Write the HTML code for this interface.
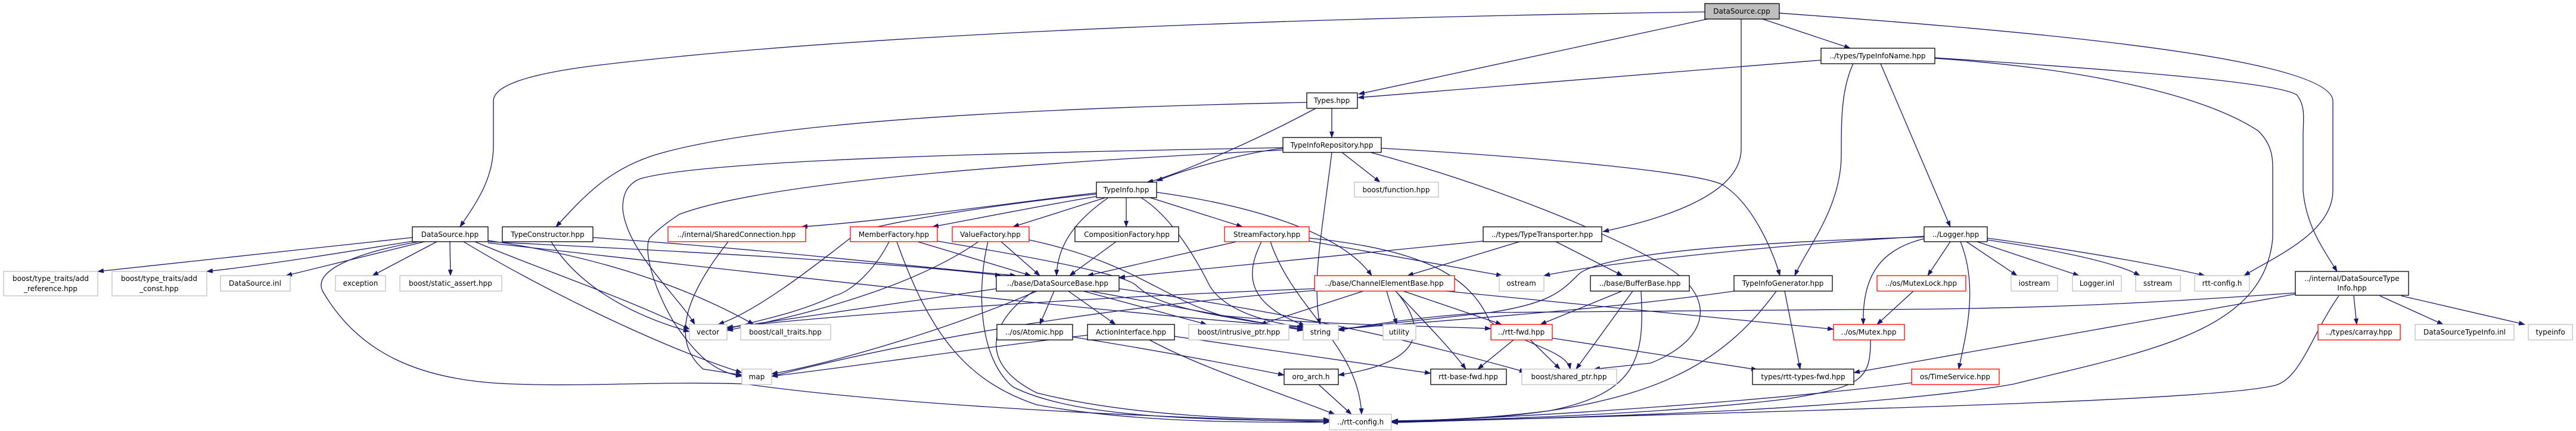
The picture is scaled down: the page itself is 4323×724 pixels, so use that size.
<!DOCTYPE html>
<html><head><meta charset="utf-8"><style>
html,body{margin:0;padding:0;background:#fff;}
svg{display:block;}
text{font-family:"DejaVu Sans","Liberation Sans",sans-serif;font-size:12px;fill:#000;}
.e{fill:none;stroke:#191970;stroke-width:1.3;marker-end:url(#a);}
.k{fill:#fff;stroke:#000;stroke-width:1.3;}
.r{fill:#fff;stroke:#ff0000;stroke-width:1.3;}
.g{fill:#fff;stroke:#bfbfbf;stroke-width:1.3;}
</style></head><body>
<svg width="4323" height="724" viewBox="0 0 4323 724" xmlns="http://www.w3.org/2000/svg">
<defs><marker id="a" markerWidth="11" markerHeight="8" refX="10" refY="4" orient="auto" markerUnits="userSpaceOnUse"><path d="M0,0 L11,4 L0,8z" fill="#191970"/></marker></defs>
<g>
<path class="e" d="M2861,20 C2300,28 1500,50 1000,110 C880,125 828,145 828,170 L828,245 C828,300 800,340 772,381"/>
<path class="e" d="M2870,31 L2280,158"/>
<path class="e" d="M2922,31 L2922,250 C2922,330 2780,370 2690,389"/>
<path class="e" d="M2955,31 L3105,81"/>
<path class="e" d="M2986,22 C3300,45 3915,90 3915,170 L3915,320 C3915,390 3820,430 3766,463"/>
<path class="e" d="M3056,101 L2279,164"/>
<path class="e" d="M3110,107 C3090,150 3090,200 3090,260 C3090,350 3030,420 3012,463"/>
<path class="e" d="M3156,107 L3273,381"/>
<path class="e" d="M3247,97 C3600,120 3830,140 3855,160 C3870,180 3865,200 3865,230 L3865,320 C3870,380 3900,420 3922,456"/>
<path class="e" d="M3247,98 C3500,115 3700,160 3790,220 C3810,240 3814,260 3814,280 L3814,400 C3800,560 3600,590 3380,645 C3300,660 3100,680 2900,690 C2700,700 2500,705 2336,709"/>
<path class="e" d="M2235,182 L2235,231"/>
<path class="e" d="M2193,172 C1800,180 1300,200 1100,260 C1020,285 980,330 933,381"/>
<path class="e" d="M2208,182 C2100,240 1960,300 1925,306"/>
<path class="e" d="M2153,249 C2100,255 2000,280 1941,304"/>
<path class="e" d="M2153,248 C1800,255 1200,265 1075,300 C1050,310 1045,330 1045,350 C1050,420 1140,500 1166,545"/>
<path class="e" d="M2153,252 C1800,270 1300,300 1140,360 C1110,380 1100,390 1090,400 C1080,420 1095,480 1130,540 C1170,600 1200,625 1245,632"/>
<path class="e" d="M2252,256 L2316,306"/>
<path class="e" d="M2235,256 C2225,340 2210,430 2210,480 C2210,510 2212,530 2215,545"/>
<path class="e" d="M2300,256 C2500,310 2700,390 2800,450 C2880,500 2870,570 2770,610 L2675,620"/>
<path class="e" d="M2318,249 C2600,265 2850,290 2890,310 C2940,340 2975,420 2987,463"/>
<path class="e" d="M1840,324 C1700,340 1500,370 1345,381"/>
<path class="e" d="M1840,330 C1750,345 1650,365 1565,381"/>
<path class="e" d="M1855,332 L1700,381"/>
<path class="e" d="M1890,332 L1890,381"/>
<path class="e" d="M1930,332 L2085,381"/>
<path class="e" d="M1860,332 C1820,360 1775,400 1773,463"/>
<path class="e" d="M1840,326 C1700,340 1500,370 1440,390 C1400,420 1280,520 1205,545"/>
<path class="e" d="M1915,332 C1960,360 2000,420 2030,480 C2060,530 2150,545 2190,550"/>
<path class="e" d="M1941,323 C2100,345 2250,390 2302,463"/>
<path class="e" d="M1222,406 C1180,460 1110,560 1180,620 L1245,630"/>
<path class="e" d="M1540,406 L1730,463"/>
<path class="e" d="M1492,406 C1470,450 1430,490 1400,497 C1330,530 1260,540 1220,553"/>
<path class="e" d="M1573,405 C1750,435 1880,460 1905,478 C1930,500 1950,520 2187,553"/>
<path class="e" d="M1505,406 C1560,560 1620,640 1740,680 C1900,710 2100,710 2231,709"/>
<path class="e" d="M1680,406 L1745,463"/>
<path class="e" d="M1642,406 C1550,470 1400,520 1220,555"/>
<path class="e" d="M1658,406 C1640,480 1640,600 1700,650 C1800,700 2000,706 2231,707"/>
<path class="e" d="M1727,403 C1900,440 1950,500 2050,530 C2200,545 2400,548 2502,552"/>
<path class="e" d="M1873,406 L1795,463"/>
<path class="e" d="M2075,406 L1825,463"/>
<path class="e" d="M2117,406 C2090,460 2090,510 2190,547"/>
<path class="e" d="M2132,406 C2170,520 2280,580 2285,696"/>
<path class="e" d="M2197,405 L2521,463"/>
<path class="e" d="M2197,400 C2400,420 2470,470 2500,540 C2560,580 2630,590 2635,620"/>
<path class="e" d="M1672,485 C1500,510 1300,540 1220,551"/>
<path class="e" d="M1740,489 C1600,550 1400,610 1295,628"/>
<path class="e" d="M1769,489 L1745,545"/>
<path class="e" d="M1793,489 L1872,545"/>
<path class="e" d="M1818,489 L2025,545"/>
<path class="e" d="M1830,489 L2187,555"/>
<path class="e" d="M1735,489 C1660,540 1640,610 1740,660 C1900,700 2100,705 2231,705"/>
<path class="e" d="M1878,485 C2200,530 2400,580 2560,625"/>
<path class="e" d="M1825,563 C1600,590 1400,620 1295,632"/>
<path class="e" d="M1971,565 L2401,627"/>
<path class="e" d="M1929,571 C2020,620 2150,660 2240,696"/>
<path class="e" d="M1800,566 C1950,590 2080,615 2155,630"/>
<path class="e" d="M2213,646 L2268,696"/>
<path class="e" d="M2540,571 L2480,620"/>
<path class="e" d="M2568,571 L2618,620"/>
<path class="e" d="M2605,568 L2949,621"/>
<path class="e" d="M2206,485 C1800,500 1400,530 1220,550"/>
<path class="e" d="M2206,488 C1800,520 1500,580 1295,632"/>
<path class="e" d="M2288,489 L2115,545"/>
<path class="e" d="M2327,489 L2344,545"/>
<path class="e" d="M2355,489 L2520,545"/>
<path class="e" d="M2342,489 C2380,530 2430,580 2460,620"/>
<path class="e" d="M2345,492 C2400,560 2380,610 2246,630"/>
<path class="e" d="M2427,489 L3077,553"/>
<path class="e" d="M2550,406 L2362,463"/>
<path class="e" d="M2611,406 L2723,463"/>
<path class="e" d="M2489,405 L1878,466"/>
<path class="e" d="M2722,489 L2585,545"/>
<path class="e" d="M2740,489 L2645,620"/>
<path class="e" d="M2754,489 C2760,600 2750,660 2600,690 C2500,705 2400,706 2336,707"/>
<path class="e" d="M2910,489 C2700,520 2400,540 2246,553"/>
<path class="e" d="M2995,489 L3021,620"/>
<path class="e" d="M2981,489 C2900,600 2800,660 2600,690 C2500,703 2400,706 2336,708"/>
<path class="e" d="M3229,397 C3000,410 2700,440 2591,463"/>
<path class="e" d="M3229,398 C3000,405 2700,420 2650,460 C2620,490 2600,510 2500,525 L2246,553"/>
<path class="e" d="M3229,401 C3150,420 3125,470 3127,545"/>
<path class="e" d="M3273,406 L3235,463"/>
<path class="e" d="M3290,406 C3320,480 3300,560 3287,620"/>
<path class="e" d="M3300,406 L3385,463"/>
<path class="e" d="M3318,406 L3489,463"/>
<path class="e" d="M3335,403 C3450,420 3550,440 3591,463"/>
<path class="e" d="M3335,400 C3480,420 3600,440 3700,463"/>
<path class="e" d="M3211,489 L3150,545"/>
<path class="e" d="M3139,571 C3140,640 3120,650 3000,670 C2800,695 2500,705 2336,708"/>
<path class="e" d="M3208,643 C3000,670 2600,700 2336,708"/>
<path class="e" d="M3950,497 L3955,545"/>
<path class="e" d="M3994,497 L4100,545"/>
<path class="e" d="M4030,497 L4237,545"/>
<path class="e" d="M3852,492 C3600,510 3400,520 3100,520 L2500,525 C2400,530 2300,545 2246,555"/>
<path class="e" d="M3852,494 C3600,540 3300,590 3111,626"/>
<path class="e" d="M3925,497 C3880,560 3860,640 3815,648 C3700,675 3000,690 2336,710"/>
<path class="e" d="M692,399 C500,420 300,440 164,456"/>
<path class="e" d="M700,404 C600,420 450,445 347,456"/>
<path class="e" d="M712,406 L480,463"/>
<path class="e" d="M733,406 L625,463"/>
<path class="e" d="M755,406 L756,463"/>
<path class="e" d="M703,406 C620,420 520,450 542,490 C600,590 700,640 860,645 C1000,650 1100,640 1250,645 C1500,680 1900,700 2231,709"/>
<path class="e" d="M778,406 C900,480 1100,580 1245,626"/>
<path class="e" d="M797,406 C900,450 1050,500 1157,553"/>
<path class="e" d="M819,404 C1000,430 1150,480 1265,545"/>
<path class="e" d="M819,406 C1100,420 1500,440 1680,463"/>
<path class="e" d="M995,399 C1300,420 1500,445 1705,463"/>
<path class="e" d="M819,408 C1200,450 1800,520 2187,550"/>
<path class="e" d="M925,406 C970,480 1060,530 1157,557"/>
</g>
<g text-anchor="middle" dominant-baseline="central">
<rect x="2861" y="6" width="125" height="26" fill="#bfbfbf" stroke="#000" stroke-width="1.3"/><text x="2923" y="19">DataSource.cpp</text>
<rect class="k" x="3056" y="81" width="191" height="26"/><text x="3151" y="94">../types/TypeInfoName.hpp</text>
<rect class="k" x="2193" y="156" width="85" height="26"/><text x="2235" y="169">Types.hpp</text>
<rect class="k" x="2153" y="231" width="165" height="25"/><text x="2235" y="244">TypeInfoRepository.hpp</text>
<rect class="k" x="1840" y="306" width="101" height="26"/><text x="1890" y="319">TypeInfo.hpp</text>
<rect class="g" x="2273" y="306" width="141" height="25"/><text x="2343" y="319">boost/function.hpp</text>
<rect class="k" x="692" y="381" width="127" height="25"/><text x="755" y="394">DataSource.hpp</text>
<rect class="k" x="843" y="381" width="152" height="25"/><text x="919" y="394">TypeConstructor.hpp</text>
<rect class="r" x="1121" y="381" width="231" height="25"/><text x="1236" y="394">../internal/SharedConnection.hpp</text>
<rect class="r" x="1427" y="381" width="146" height="25"/><text x="1500" y="394">MemberFactory.hpp</text>
<rect class="r" x="1598" y="381" width="129" height="25"/><text x="1662" y="394">ValueFactory.hpp</text>
<rect class="k" x="1804" y="381" width="174" height="25"/><text x="1891" y="394">CompositionFactory.hpp</text>
<rect class="r" x="2055" y="381" width="142" height="25"/><text x="2126" y="394">StreamFactory.hpp</text>
<rect class="k" x="2489" y="381" width="199" height="25"/><text x="2588" y="394">../types/TypeTransporter.hpp</text>
<rect class="k" x="3229" y="381" width="106" height="25"/><text x="3282" y="394">../Logger.hpp</text>
<rect class="g" x="6" y="456" width="158" height="41"/><text x="85" y="468">boost/type_traits/add</text><text x="85" y="485">_reference.hpp</text>
<rect class="g" x="188" y="456" width="159" height="41"/><text x="267" y="468">boost/type_traits/add</text><text x="267" y="485">_const.hpp</text>
<rect class="g" x="370" y="463" width="117" height="26"/><text x="428" y="476">DataSource.inl</text>
<rect class="g" x="563" y="463" width="84" height="26"/><text x="605" y="476">exception</text>
<rect class="g" x="671" y="463" width="171" height="26"/><text x="756" y="476">boost/static_assert.hpp</text>
<rect class="k" x="1672" y="463" width="206" height="26"/><text x="1775" y="476">../base/DataSourceBase.hpp</text>
<rect class="r" x="2206" y="463" width="235" height="26"/><text x="2323" y="476">../base/ChannelElementBase.hpp</text>
<rect class="g" x="2516" y="463" width="75" height="26"/><text x="2553" y="476">ostream</text>
<rect class="k" x="2669" y="463" width="166" height="26"/><text x="2752" y="476">../base/BufferBase.hpp</text>
<rect class="k" x="2910" y="463" width="165" height="26"/><text x="2992" y="476">TypeInfoGenerator.hpp</text>
<rect class="r" x="3150" y="463" width="149" height="26"/><text x="3224" y="476">../os/MutexLock.hpp</text>
<rect class="g" x="3375" y="463" width="78" height="26"/><text x="3414" y="476">iostream</text>
<rect class="g" x="3478" y="463" width="82" height="26"/><text x="3519" y="476">Logger.inl</text>
<rect class="g" x="3584" y="463" width="75" height="26"/><text x="3621" y="476">sstream</text>
<rect class="g" x="3683" y="463" width="92" height="26"/><text x="3729" y="476">rtt-config.h</text>
<rect class="k" x="3852" y="456" width="190" height="40"/><text x="3947" y="468">../internal/DataSourceType</text><text x="3947" y="484">Info.hpp</text>
<rect class="g" x="1157" y="545" width="63" height="26"/><text x="1188" y="558">vector</text>
<rect class="g" x="1243" y="545" width="151" height="26"/><text x="1318" y="558">boost/call_traits.hpp</text>
<rect class="k" x="1673" y="545" width="127" height="26"/><text x="1736" y="558">../os/Atomic.hpp</text>
<rect class="k" x="1825" y="545" width="146" height="26"/><text x="1898" y="558">ActionInterface.hpp</text>
<rect class="g" x="1995" y="545" width="168" height="26"/><text x="2079" y="558">boost/intrusive_ptr.hpp</text>
<rect class="g" x="2187" y="545" width="59" height="26"/><text x="2216" y="558">string</text>
<rect class="g" x="2321" y="545" width="55" height="26"/><text x="2348" y="558">utility</text>
<rect class="r" x="2502" y="545" width="103" height="26"/><text x="2553" y="558">../rtt-fwd.hpp</text>
<rect class="r" x="3077" y="545" width="119" height="26"/><text x="3136" y="558">../os/Mutex.hpp</text>
<rect class="r" x="3890" y="545" width="138" height="26"/><text x="3959" y="558">../types/carray.hpp</text>
<rect class="g" x="4053" y="545" width="166" height="26"/><text x="4136" y="558">DataSourceTypeInfo.inl</text>
<rect class="g" x="4243" y="545" width="74" height="26"/><text x="4280" y="558">typeinfo</text>
<rect class="g" x="1245" y="620" width="50" height="26"/><text x="1270" y="633">map</text>
<rect class="k" x="2155" y="620" width="91" height="26"/><text x="2200" y="633">oro_arch.h</text>
<rect class="k" x="2401" y="620" width="127" height="26"/><text x="2464" y="633">rtt-base-fwd.hpp</text>
<rect class="g" x="2554" y="620" width="159" height="26"/><text x="2633" y="633">boost/shared_ptr.hpp</text>
<rect class="k" x="2941" y="620" width="170" height="26"/><text x="3026" y="633">types/rtt-types-fwd.hpp</text>
<rect class="r" x="3208" y="620" width="147" height="26"/><text x="3281" y="633">os/TimeService.hpp</text>
<rect class="g" x="2231" y="696" width="104" height="26"/><text x="2283" y="709">../rtt-config.h</text>
</g>
</svg>
</body></html>
